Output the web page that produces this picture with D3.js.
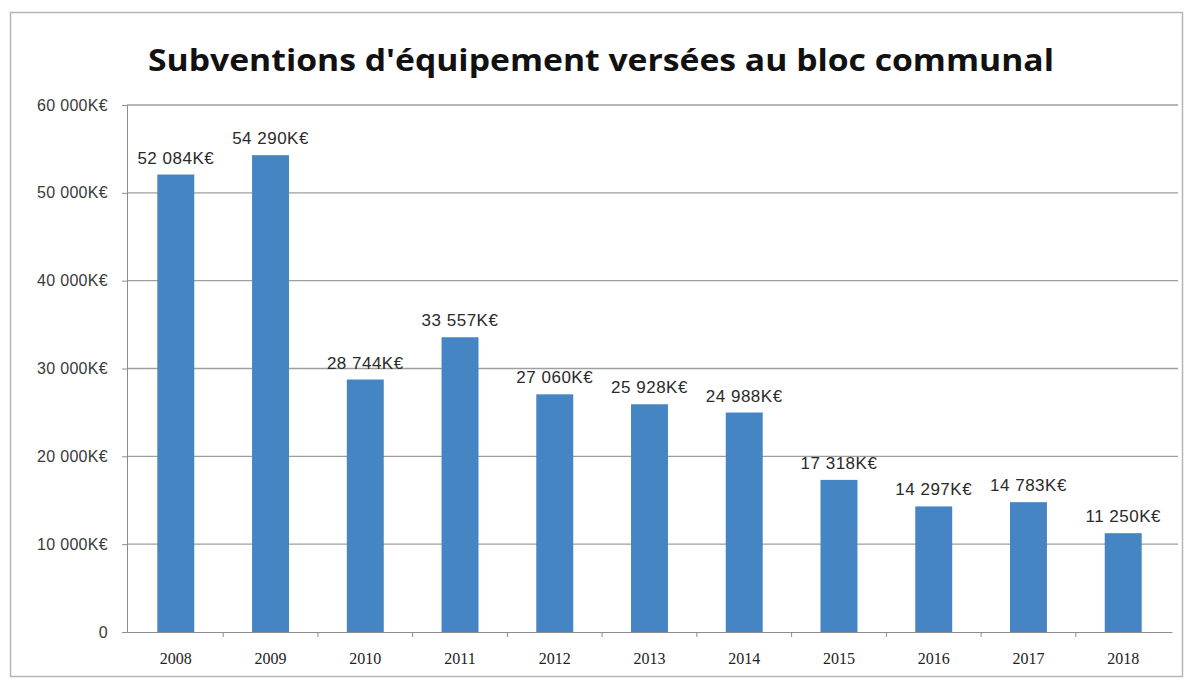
<!DOCTYPE html>
<html>
<head>
<meta charset="utf-8">
<script src="https://cdn.jsdelivr.net/npm/d3@7"></script>
<style>
body { margin: 0; background: #fff; }
</style>
</head>
<body>
<script>
// Data
var years = ["2008","2009","2010","2011","2012","2013","2014","2015","2016","2017","2018"];
var amounts = [52084, 54290, 28744, 33557, 27060, 25928, 24988, 17318, 14297, 14783, 11250];
var yTicks = [0, 10000, 20000, 30000, 40000, 50000, 60000];
var title = "Subventions d'équipement versées au bloc communal";

var w = 1187, h = 680;
// plot area
var plotLeft = 127, plotRight = 1172, plotTop = 105, plotBottom = 632;

var svg = d3.select("body").append("svg")
	.attr("width", w)
	.attr("height", h);

// frame
svg.append("rect")
	.attr("x", 10.5).attr("y", 12.5)
	.attr("width", 1172).attr("height", 664)
	.attr("fill", "#fff")
	.attr("stroke", "#b5b5b5")
	.attr("stroke-width", 1.5);

// title
svg.append("text")
	.attr("x", 601).attr("y", 71)
	.attr("text-anchor", "middle")
	.attr("textLength", 906)
	.attr("lengthAdjust", "spacingAndGlyphs")
	.style("font-family", "'Open Sans', sans-serif")
	.style("font-weight", "bold")
	.style("font-size", "31px")
	.attr("fill", "#111")
	.text(title);

var x = d3.scaleBand()
	.domain(years)
	.range([plotLeft, plotRight])
	.paddingInner(0.61)
	.paddingOuter(0.32);

var y = d3.scaleLinear()
	.domain([0, 60000])
	.range([plotBottom, plotTop]);

var fmt = function(v) {
	return d3.format(",")(v).replace(/,/g, " ");
};

// gridlines
svg.append("g")
	.selectAll("line")
	.data(yTicks.filter(function(d){ return d > 0; }))
	.enter()
	.append("line")
	.attr("x1", plotLeft).attr("x2", plotRight + 6)
	.attr("y1", function(d){ return y(d); })
	.attr("y2", function(d){ return y(d); })
	.attr("stroke", "#9e9e9e")
	.attr("stroke-width", 1.4);

// y axis
var yAxis = d3.axisLeft(y)
	.tickValues(yTicks)
	.tickSize(5)
	.tickPadding(14)
	.tickFormat(function(d){ return d === 0 ? "0" : fmt(d) + "K€"; });

var gy = svg.append("g")
	.attr("transform", "translate(" + plotLeft + ",0)")
	.call(yAxis);
gy.selectAll("path, line").attr("stroke", "#8c8c8c");
gy.selectAll("text")
	.style("font-family", "'Liberation Sans', sans-serif")
	.style("font-size", "16px")
	.style("letter-spacing", "0.3px")
	.attr("fill", "#3a3a3a");

// x axis with tick marks between categories
var xAxis = d3.axisBottom(x)
	.tickSize(0)
	.tickPadding(21);

var gx = svg.append("g")
	.attr("transform", "translate(0," + plotBottom + ")")
	.call(xAxis);
gx.select("path").attr("stroke", "#8c8c8c");
gx.selectAll("text")
	.style("font-family", "'Liberation Serif', serif")
	.style("font-size", "16px")
	.attr("fill", "#222");

gx.selectAll(".sep")
	.data(years.slice(1))
	.enter()
	.append("line")
	.attr("class", "sep")
	.attr("x1", function(d){ return x(d) - x.step() * x.paddingInner() / 2; })
	.attr("x2", function(d){ return x(d) - x.step() * x.paddingInner() / 2; })
	.attr("y1", 0).attr("y2", 5)
	.attr("stroke", "#8c8c8c");

// bars
svg.append("g")
	.selectAll("rect")
	.data(amounts)
	.enter()
	.append("rect")
	.attr("x", function(d, i){ return x(years[i]); })
	.attr("y", function(d){ return y(d); })
	.attr("width", x.bandwidth())
	.attr("height", function(d){ return y(0) - y(d); })
	.attr("fill", "#4585c4");

// value labels
svg.append("g")
	.selectAll("text")
	.data(amounts)
	.enter()
	.append("text")
	.attr("x", function(d, i){ return x(years[i]) + x.bandwidth() / 2; })
	.attr("y", function(d){ return y(d) - 11; })
	.attr("text-anchor", "middle")
	.style("font-family", "'Liberation Sans', sans-serif")
	.style("font-size", "17px")
	.style("letter-spacing", "0.5px")
	.attr("fill", "#2a2a2a")
	.text(function(d){ return fmt(d) + "K€"; });
</script>
</body>
</html>
